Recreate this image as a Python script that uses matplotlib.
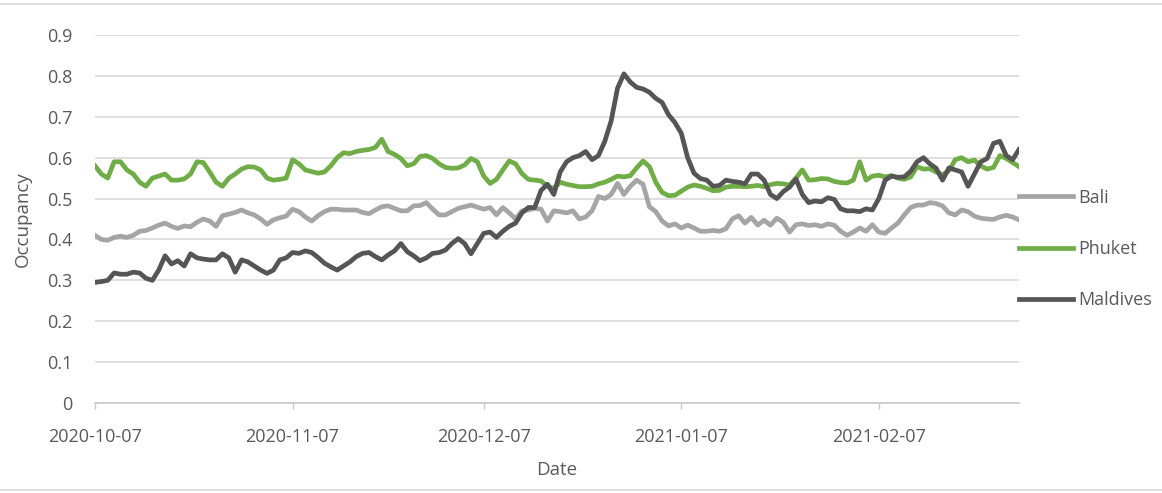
import numpy as np
import pandas as pd
import matplotlib
matplotlib.use('Agg')
import matplotlib.pyplot as plt
import matplotlib.dates as mdates
from matplotlib.lines import Line2D

plt.rcParams['font.family'] = ['Open Sans', 'DejaVu Sans']

start_date = '2020-10-07'

# daily occupancy, 2020-10-07 .. 2021-03-01
bali = [
    0.41, 0.40, 0.398, 0.405, 0.408, 0.405, 0.41, 0.42, 0.422, 0.428,
    0.435, 0.44, 0.432, 0.427, 0.433, 0.431, 0.442, 0.45, 0.445, 0.432,
    0.458, 0.462, 0.466, 0.472, 0.465, 0.46, 0.45, 0.437, 0.448, 0.453,
    0.457, 0.474, 0.468, 0.455, 0.445, 0.458, 0.468,
    0.474, 0.474, 0.472, 0.472, 0.472, 0.466, 0.463, 0.472, 0.48, 0.482,
    0.476, 0.47, 0.47, 0.482, 0.483, 0.49, 0.474, 0.46, 0.46, 0.468,
    0.476, 0.48, 0.484, 0.479, 0.474, 0.478, 0.46, 0.478, 0.465, 0.45,
    0.47, 0.472, 0.476, 0.474, 0.445, 0.47,
    0.468, 0.465, 0.47, 0.45, 0.455, 0.47, 0.505, 0.50, 0.51, 0.537,
    0.51, 0.53, 0.545, 0.535, 0.48, 0.468, 0.445, 0.433, 0.438, 0.428,
    0.435, 0.428, 0.42, 0.42, 0.422, 0.42, 0.426, 0.45, 0.458, 0.44,
    0.454, 0.435, 0.447, 0.435, 0.452, 0.442, 0.418, 0.436,
    0.438, 0.434, 0.436, 0.432, 0.438, 0.435, 0.42, 0.41, 0.418, 0.428,
    0.42, 0.436, 0.418, 0.415, 0.428, 0.44, 0.46, 0.478, 0.484, 0.484,
    0.49, 0.488, 0.482, 0.465, 0.46, 0.472, 0.468, 0.457, 0.452, 0.45,
    0.449, 0.455, 0.459, 0.455, 0.448,
]
phuket = [
    0.58, 0.56, 0.55, 0.59, 0.59, 0.57, 0.56, 0.54, 0.53, 0.55,
    0.555, 0.56, 0.545, 0.545, 0.548, 0.56, 0.59, 0.588, 0.565, 0.54,
    0.53, 0.55, 0.56, 0.572, 0.578, 0.577, 0.57, 0.55, 0.545, 0.547,
    0.55, 0.595, 0.585, 0.57, 0.566, 0.562, 0.565,
    0.58, 0.60, 0.612, 0.61, 0.615, 0.618, 0.62, 0.625, 0.645, 0.615,
    0.608, 0.598, 0.58, 0.585, 0.603, 0.605, 0.598, 0.585, 0.576, 0.574,
    0.575, 0.582, 0.598, 0.59, 0.555, 0.537, 0.547, 0.57, 0.592, 0.585,
    0.561, 0.547, 0.545, 0.543, 0.53, 0.525,
    0.54, 0.535, 0.532, 0.529, 0.529, 0.53, 0.536, 0.54, 0.547, 0.555,
    0.553, 0.556, 0.575, 0.592, 0.578, 0.54, 0.515, 0.507, 0.508, 0.518,
    0.528, 0.533, 0.53, 0.525, 0.519, 0.52, 0.528, 0.53, 0.53, 0.529,
    0.53, 0.532, 0.529, 0.534, 0.537, 0.536, 0.533, 0.55,
    0.57, 0.545, 0.546, 0.549, 0.548, 0.542, 0.539, 0.538, 0.545, 0.59,
    0.545, 0.555, 0.557, 0.553, 0.556, 0.55, 0.547, 0.553, 0.578, 0.572,
    0.573, 0.565, 0.558, 0.568, 0.595, 0.60, 0.59, 0.594, 0.58, 0.572,
    0.576, 0.605, 0.598, 0.588, 0.578,
]
maldives = [
    0.295, 0.297, 0.30, 0.318, 0.315, 0.315, 0.32, 0.318, 0.305, 0.30,
    0.325, 0.36, 0.34, 0.348, 0.335, 0.365, 0.355, 0.352, 0.35, 0.35,
    0.365, 0.355, 0.32, 0.35, 0.345, 0.335, 0.325, 0.317, 0.325, 0.35,
    0.355, 0.368, 0.366, 0.372, 0.368, 0.356, 0.342,
    0.333, 0.325, 0.335, 0.345, 0.358, 0.366, 0.368, 0.358, 0.35, 0.362,
    0.372, 0.39, 0.37, 0.36, 0.348, 0.355, 0.366, 0.368, 0.374, 0.39,
    0.402, 0.39, 0.365, 0.39, 0.415, 0.418, 0.405, 0.42, 0.432, 0.44,
    0.465, 0.478, 0.478, 0.52, 0.535, 0.51,
    0.565, 0.59, 0.60, 0.605, 0.615, 0.595, 0.605, 0.64, 0.69, 0.77,
    0.805, 0.785, 0.772, 0.768, 0.76, 0.745, 0.735, 0.705, 0.686, 0.66,
    0.60, 0.562, 0.549, 0.545, 0.53, 0.532, 0.545, 0.542, 0.54, 0.536,
    0.56, 0.56, 0.545, 0.51, 0.50, 0.517, 0.528, 0.548,
    0.51, 0.49, 0.494, 0.492, 0.502, 0.498, 0.475, 0.47, 0.47, 0.468,
    0.475, 0.472, 0.50, 0.545, 0.555, 0.552, 0.553, 0.567, 0.59, 0.60,
    0.585, 0.574, 0.545, 0.575, 0.57, 0.565, 0.53, 0.56, 0.59, 0.598,
    0.635, 0.64, 0.605, 0.595, 0.62,
]
names = ['Bali', 'Phuket', 'Maldives']
colors = ['#a5a5a5', '#70ad47', '#555555']
tick_dates = ['2020-10-07', '2020-11-07', '2020-12-07', '2021-01-07', '2021-02-07']
y_ticks = [0, 0.1, 0.2, 0.3, 0.4, 0.5, 0.6, 0.7, 0.8, 0.9]

dates = pd.date_range(start_date, periods=len(bali), freq='D')
text_col = '#595959'

fig = plt.figure(figsize=(11.62, 4.93), dpi=100)
ax = fig.add_axes([95 / 1162, 1 - 403 / 493, (1019 - 95) / 1162, (403 - 35) / 493])

for name, vals, col in zip(names, [bali, phuket, maldives], colors):
    ax.plot(dates, vals, color=col, lw=3.4, label=name, solid_joinstyle='round')

ax.set_xlim(dates[0], dates[-1])
ax.set_ylim(0, 0.9)
ax.set_yticks(y_ticks)
ax.set_yticklabels(['0'] + [f'{v:.1f}' for v in y_ticks[1:]])
ax.set_xticks(pd.to_datetime(tick_dates))
ax.xaxis.set_major_formatter(mdates.DateFormatter('%Y-%m-%d'))

ax.grid(axis='y', color='#d9d9d9', lw=1.2)
ax.set_axisbelow(True)
for s in ['top', 'right', 'left']:
    ax.spines[s].set_visible(False)
ax.spines['bottom'].set_color('#c8c8c8')
ax.spines['bottom'].set_linewidth(1.2)
ax.tick_params(axis='y', length=0, pad=16, labelsize=13, labelcolor=text_col)
ax.tick_params(axis='x', length=4, width=1, color='#c8c8c8', pad=14,
               labelsize=13, labelcolor=text_col)

ax.set_xlabel('Date', fontsize=13.5, color=text_col, labelpad=11)
ax.set_ylabel('Occupancy', fontsize=13.5, color=text_col, labelpad=11)

leg = ax.legend(loc='center left', bbox_to_anchor=(1.0, (403 - 249) / 368),
                frameon=False, handlelength=3.0, handletextpad=0.3,
                labelspacing=1.85, borderaxespad=0, borderpad=0,
                fontsize=13)
for t in leg.get_texts():
    t.set_color(text_col)

# thin frame lines along the chart area edges
fig.add_artist(Line2D([0, 1], [1 - 4 / 493, 1 - 4 / 493], color='#d9d9d9', lw=1.2))
fig.add_artist(Line2D([0, 1], [3 / 493, 3 / 493], color='#d9d9d9', lw=1.2))

fig.savefig('out.png', dpi=100)
